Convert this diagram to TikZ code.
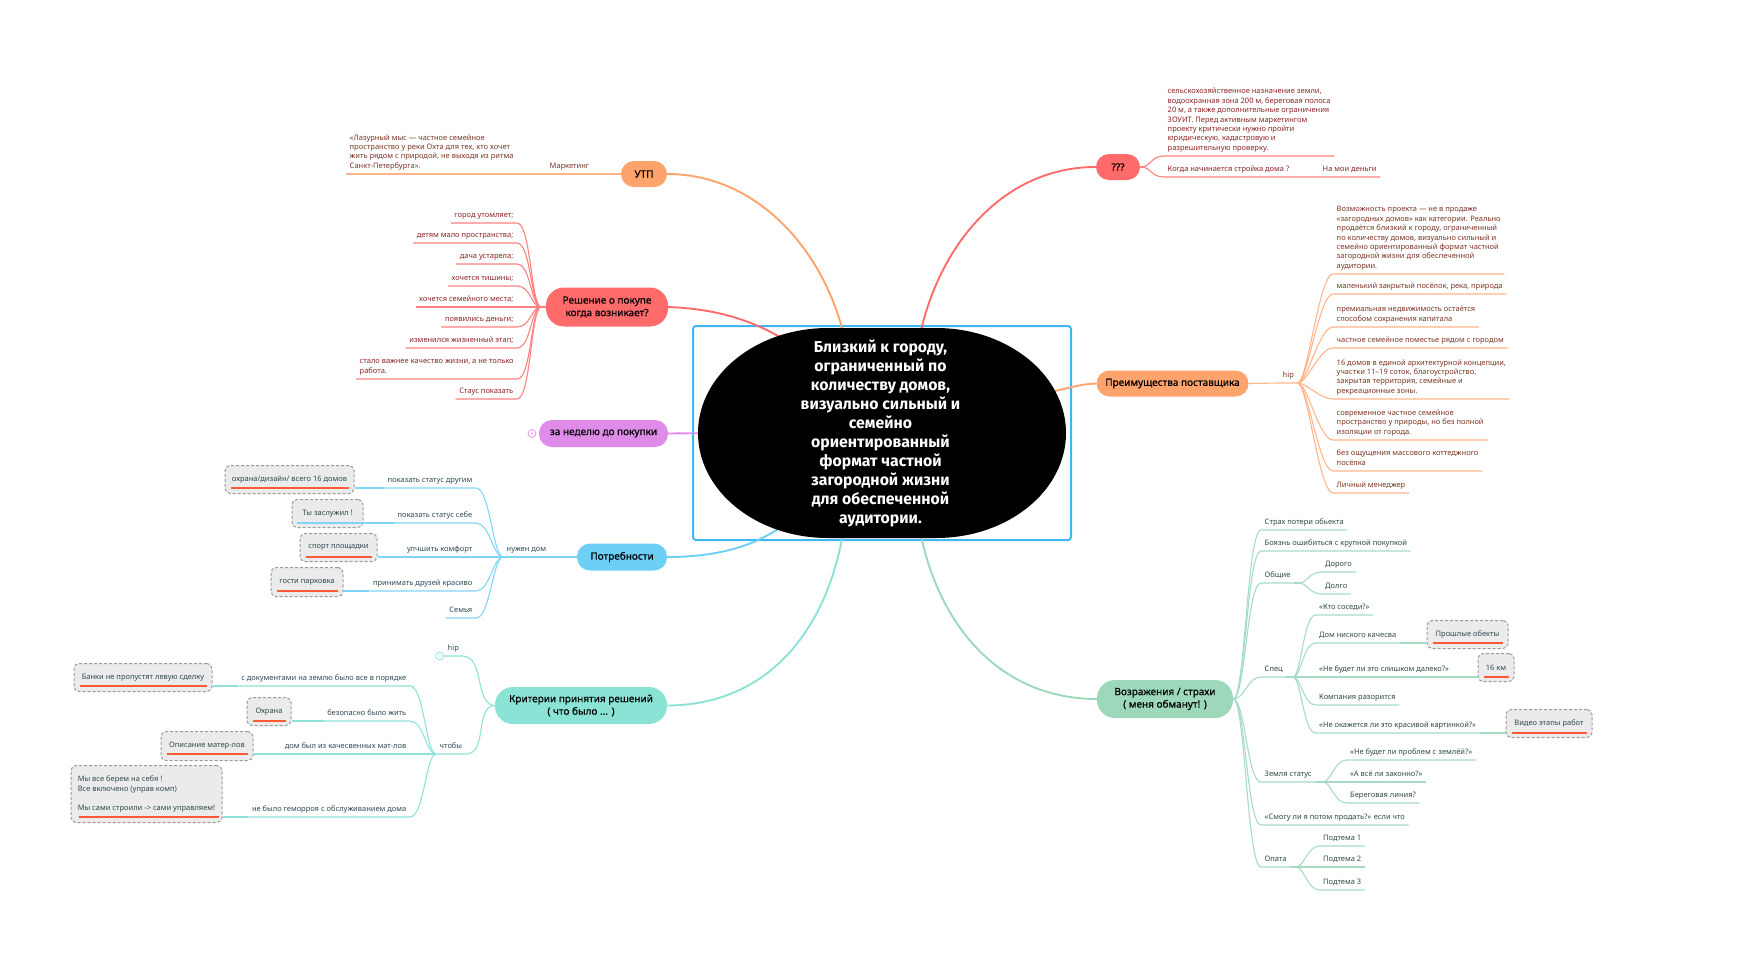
\documentclass[tikz,border=0pt]{standalone}
\usepackage{fontspec}
\setmainfont{Noto Sans}
\newfontfamily\cenfont{Fira Sans}
\newfontfamily\nodefont{Noto Sans}[FakeBold=0.5]
\definecolor{corange}{HTML}{FFA36C}
\definecolor{lorange}{HTML}{FFB48A}
\definecolor{cred}{HTML}{FF6B6B}
\definecolor{lred}{HTML}{FF8080}
\definecolor{cviolet}{HTML}{DE8BEA}
\definecolor{cblue}{HTML}{6DCFF6}
\definecolor{lblue}{HTML}{80D4F7}
\definecolor{cturq}{HTML}{8BE3D6}
\definecolor{lturq}{HTML}{8EE2D6}
\definecolor{cgreen}{HTML}{9DD8BA}
\definecolor{lgreen}{HTML}{A6DCC3}
\definecolor{framec}{HTML}{3DB6F2}
\definecolor{tbrown}{HTML}{7A3524}
\definecolor{tred}{HTML}{8A2424}
\definecolor{tslate}{HTML}{2F4A55}
\definecolor{tgreen}{HTML}{2E4A44}
\definecolor{tbox}{HTML}{2F4A4F}
\definecolor{boxfill}{HTML}{EBEBEB}
\definecolor{boxline}{HTML}{9A9A9A}
\definecolor{uline}{HTML}{FF5A36}
\begin{document}
\begin{tikzpicture}[x=1pt,y=-1pt,
  main/.style={rectangle, rounded corners=#1, inner xsep=6pt, inner ysep=2pt, align=center, text=black, font=\nodefont\fontsize{10}{12.5}\selectfont},
  leaf/.style={inner xsep=3.5pt, inner ysep=5.5pt, text depth=0pt, align=left, font=\fontsize{7.5}{9.4}\selectfont},
  callbox/.style={draw=boxline, fill=boxfill, dash pattern=on 3pt off 2pt, line width=1pt, rounded corners=5pt, inner sep=2pt, text=tbox, align=left, font=\fontsize{7.5}{9.4}\selectfont},
  ul/.style={draw=uline, line width=1.3pt},
  conn/.style={line width=1.9pt},
  twig/.style={line width=1.1pt},
  dotc/.style={circle, draw, line width=0.7pt, inner sep=0pt, minimum size=8pt, font=\fontsize{4.5}{5}\selectfont},
]
\useasboundingbox (0,0) rectangle (1742,959);

% ---------- main topic nodes ----------
\node[draw=framec, line width=2pt, rounded corners=3pt, minimum width=378pt, minimum height=214pt] (frm) at (882,433) {};
\node[main=13pt, fill=corange, minimum width=46pt, minimum height=26pt] (utp) at (644,174) {УТП};
\node[main=18pt, fill=cred, minimum width=122pt, minimum height=39pt] (dec) at (607,307) {Решение о покупе\\когда возникает?};
\node[main=13pt, fill=cviolet, minimum width=129pt, minimum height=27pt] (week) at (603.5,433.5) {за неделю до покупки};
\node[dotc, draw=cviolet, text=cviolet] (weekc) at (532,433.5) {8};
\node[main=13pt, fill=cblue, minimum width=90pt, minimum height=27pt] (need) at (622,557) {Потребности};
\node[main=18pt, fill=cturq, minimum width=172pt, minimum height=37pt] (crit) at (581,705.5) {Критерии принятия решений\\( что было ... )};
\node[main=13pt, fill=cred, minimum width=44pt, minimum height=26pt] (qqq) at (1118,167) {???};
\node[main=13pt, fill=corange, minimum width=152pt, minimum height=26pt] (adv) at (1172.5,383.5) {Преимущества поставщика};
\node[main=18pt, fill=cgreen, minimum width=136pt, minimum height=38pt] (obj) at (1165,699) {Возражения / страхи\\( меня обманут! )};

% ---------- main connectors ----------
\coordinate (eutp) at (846,345);
\coordinate (edec) at (800,350);
\coordinate (eweek) at (715,433);
\coordinate (eneed) at (790,520);
\coordinate (ecrit) at (845,520);
\coordinate (eqqq) at (918,345);
\coordinate (eadv) at (1050,392);
\coordinate (eobj) at (918,520);
\draw[conn, draw=corange] (utp.east) .. controls (760,174) and (828,255) .. (eutp);
\draw[conn, draw=cred] (dec.east) .. controls (725,309) and (765,325) .. (edec);
\draw[conn, draw=cviolet] (week.east) -- (eweek);
\draw[conn, draw=cblue] (need.east) .. controls (720,557) and (760,545) .. (eneed);
\draw[conn, draw=cturq] (crit.east) .. controls (775,705) and (832,620) .. (ecrit);
\draw[conn, draw=cred] (qqq.west) .. controls (1000,167) and (935,250) .. (eqqq);
\draw[conn, draw=corange] (adv.west) .. controls (1080,384) and (1070,388) .. (eadv);
\draw[conn, draw=cgreen] (obj.west) .. controls (1000,699) and (935,625) .. (eobj);

% ---------- central node ----------
\fill[black] (828,328) arc[start angle=270, end angle=90, x radius=130, y radius=105]
  -- (936,538) arc[start angle=90, end angle=-90, x radius=130, y radius=105] -- cycle;
\node[text=white, align=center, font=\cenfont\bfseries\fontsize{15.8}{19}\selectfont] (cen) at (880.5,433)
  {Близкий к городу,\\ограниченный по\\количеству домов,\\визуально сильный и\\семейно\\ориентированный\\формат частной\\загородной жизни\\для обеспеченной\\аудитории.};

% ---------- УТП ----------
\node[leaf, text=tbrown, anchor=south west] (mk) at (546,174) {Маркетинг};
\node[leaf, text=tbrown, anchor=south west] (quote) at (346,174) {«Лазурный мыс — частное семейное\\пространство у реки Охта для тех, кто хочет\\жить рядом с природой, не выходя из ритма\\Санкт-Петербурга».};
\draw[twig, draw=lorange] (utp.west) -- (mk.south east) -- (mk.south west) -- (quote.south east) -- (quote.south west);

% ---------- Решение ----------
\coordinate (decf) at (541,307);
\node[leaf, text=tred, anchor=south east] (d1) at (517,223) {город утомляет;};
\node[leaf, text=tred, anchor=south east] (d2) at (517,243) {детям мало пространства;};
\node[leaf, text=tred, anchor=south east] (d3) at (517,264) {дача устарела;};
\node[leaf, text=tred, anchor=south east] (d4) at (517,286) {хочется тишины;};
\node[leaf, text=tred, anchor=south east] (d5) at (517,307) {хочется семейного места;};
\node[leaf, text=tred, anchor=south east] (d6) at (517,327) {появились деньги;};
\node[leaf, text=tred, anchor=south east] (d7) at (517,348) {изменился жизненный этап;};
\node[leaf, text=tred, anchor=south west] (d8) at (356,379) {стало важнее качество жизни, а не только\\работа.};
\node[leaf, text=tred, anchor=south east] (d9) at (517,399) {Стаус показать};
\draw[twig, draw=lred] (dec.west) -- (decf);
\foreach \n in {d1,d2,d3,d4,d5,d6,d7,d8,d9}
  {\draw[twig, draw=lred] (decf) .. controls +(-10,0) and +(14,0) .. (\n.south east) -- (\n.south west);}

% ---------- Потребности ----------
\node[leaf, text=tslate, anchor=south west] (nd) at (503,557) {нужен дом};
\node[leaf, text=tslate, anchor=south east] (n1) at (476,488) {показать статус другим};
\node[leaf, text=tslate, anchor=south east] (n2) at (476,523) {показать статус себе};
\node[leaf, text=tslate, anchor=south east] (n3) at (476,557) {улчшить комфорт};
\node[leaf, text=tslate, anchor=south east] (n4) at (476,591) {принимать друзей красиво};
\node[leaf, text=tslate, anchor=south east] (n5) at (476,618) {Семья};
\node[callbox, minimum width=129pt, minimum height=28pt, anchor=south] (b1) at (289.5,494) {охрана/дизайн/ всего 16 домов};
\node[callbox, minimum width=71pt, minimum height=28pt, anchor=south] (b2) at (327.5,528) {Ты заслужил !};
\node[callbox, minimum width=77pt, minimum height=28pt, anchor=south] (b3) at (338.5,562) {спорт площадки};
\node[callbox, minimum width=72pt, minimum height=29pt, anchor=south] (b4) at (307,597) {гости парковка};
\draw[twig, draw=lblue] (need.west) -- (nd.south east) -- (nd.south west);
\foreach \n in {n1,n2,n3,n4,n5}
  {\draw[twig, draw=lblue] (nd.south west) .. controls +(-10,0) and +(14,0) .. (\n.south east) -- (\n.south west);}
\draw[twig, draw=lblue] (n1.south west) -- (b1.east |- n1.south west);
\draw[twig, draw=lblue] (n2.south west) -- ([xshift=5pt,yshift=5pt]b2.south west);
\draw[twig, draw=lblue] (n3.south west) -- (b3.east |- n3.south west);
\draw[twig, draw=lblue] (n4.south west) -- (b4.east |- n4.south west);
\draw[ul] ([xshift=6pt,yshift=6pt]b1.south west) -- ([xshift=-6pt,yshift=6pt]b1.south east);
\draw[ul] ([xshift=6pt,yshift=5pt]b3.south west) -- ([xshift=-6pt,yshift=5pt]b3.south east);
\draw[ul] ([xshift=6pt,yshift=6pt]b4.south west) -- ([xshift=-6pt,yshift=6pt]b4.south east);

% ---------- Критерии ----------
\node[leaf, text=tslate, anchor=south west] (hip1) at (444,656) {hip};
\node[dotc, draw=cturq, text=cturq, anchor=east] (hipc) at (hip1.south west) {5};
\node[leaf, text=tslate, anchor=south west] (cht) at (436,754) {чтобы};
\draw[twig, draw=lturq] (crit.west) .. controls +(-20,0) and +(22,0) .. (hip1.south east) -- (hip1.south west);
\draw[twig, draw=lturq] (crit.west) .. controls +(-20,0) and +(22,0) .. (cht.south east) -- (cht.south west);
\node[leaf, text=tslate, anchor=south east] (t1) at (410,686) {с документами на землю было все в порядке};
\node[leaf, text=tslate, anchor=south east] (t2) at (410,721) {безопасно было жить};
\node[leaf, text=tslate, anchor=south east] (t3) at (410,754) {дом был из качесвенных мат-лов};
\node[leaf, text=tslate, anchor=south east] (t4) at (410,817) {не было геморроя с обслуживанием дома};
\node[callbox, minimum width=138pt, minimum height=28pt, anchor=south] (tb1) at (143,692) {Банки не пропустят левую сделку};
\node[callbox, minimum width=44pt, minimum height=28pt, anchor=south] (tb2) at (269,726) {Охрана};
\node[callbox, minimum width=92pt, minimum height=29pt, anchor=south] (tb3) at (207,761) {Описание матер-лов};
\node[callbox, minimum width=151pt, minimum height=57pt, anchor=south] (tb4) at (146.5,823) {Мы все берем на себя !\\Все включено (управ комп)\\[9.4pt]Мы сами строили -> сами управляем!};
\foreach \n in {t1,t2,t3,t4}
  {\draw[twig, draw=lturq] (cht.south west) .. controls +(-10,0) and +(14,0) .. (\n.south east) -- (\n.south west);}
\draw[twig, draw=lturq] (t1.south west) -- (tb1.east |- t1.south west);
\draw[twig, draw=lturq] (t2.south west) -- (tb2.east |- t2.south west);
\draw[twig, draw=lturq] (t3.south west) -- (tb3.east |- t3.south west);
\draw[twig, draw=lturq] (t4.south west) -- (tb4.east |- t4.south west);
\draw[ul] ([xshift=6pt,yshift=6pt]tb1.south west) -- ([xshift=-6pt,yshift=6pt]tb1.south east);
\draw[ul] ([xshift=6pt,yshift=5pt]tb2.south west) -- ([xshift=-6pt,yshift=5pt]tb2.south east);
\draw[ul] ([xshift=6pt,yshift=7pt]tb3.south west) -- ([xshift=-6pt,yshift=7pt]tb3.south east);
\draw[ul] ([xshift=8pt,yshift=6pt]tb4.south west) -- ([xshift=-4pt,yshift=6pt]tb4.south east);

% ---------- ??? ----------
\node[leaf, text=tred, anchor=south west] (q1) at (1164,156) {сельскохозяйственное назначение земли,\\водоохранная зона 200 м, береговая полоса\\20 м, а также дополнительные ограничения\\ЗОУИТ. Перед активным маркетингом\\проекту критически нужно пройти\\юридическую, кадастровую и\\разрешительную проверку.};
\node[leaf, text=tred, anchor=south west] (q2) at (1164,177) {Когда начинается стройка дома ?};
\node[leaf, text=tred, anchor=south west] (q3) at (1319,177) {На мои деньги};
\draw[twig, draw=lred] (qqq.east) .. controls +(12,0) and +(-14,0) .. (q1.south west) -- (q1.south east);
\draw[twig, draw=lred] (qqq.east) .. controls +(12,0) and +(-14,0) .. (q2.south west) -- (q2.south east) -- (q3.south west) -- (q3.south east);

% ---------- Преимущества ----------
\node[leaf, text=tbrown, anchor=south west] (ahip) at (1279,383) {hip};
\draw[twig, draw=lorange] (adv.east) -- (ahip.south west) -- (ahip.south east);
\node[leaf, text=tbrown, anchor=south west] (a1) at (1333,274) {Возможность проекта — не в продаже\\«загородных домов» как категории. Реально\\продаётся близкий к городу, ограниченный\\по количеству домов, визуально сильный и\\семейно ориентированный формат частной\\загородной жизни для обеспеченной\\аудитории.};
\node[leaf, text=tbrown, anchor=south west] (a2) at (1333,294) {маленький закрытый посёлок, река, природа};
\node[leaf, text=tbrown, anchor=south west] (a3) at (1333,327) {премиальная недвижимость остаётся\\способом сохранения капитала};
\node[leaf, text=tbrown, anchor=south west] (a4) at (1333,348) {частное семейное поместье рядом с городом};
\node[leaf, text=tbrown, anchor=south west] (a5) at (1333,399) {16 домов в единой архитектурной концепции,\\участки 11–19 соток, благоустройство,\\закрытая территория, семейные и\\рекреационные зоны.};
\node[leaf, text=tbrown, anchor=south west] (a6) at (1333,440) {современное частное семейное\\пространство у природы, но без полной\\изоляции от города.};
\node[leaf, text=tbrown, anchor=south west] (a7) at (1333,471) {без ощущения массового коттеджного\\посёлка};
\node[leaf, text=tbrown, anchor=south west] (a8) at (1333,493) {Личный менеджер};
\foreach \n in {a1,a2,a3,a4,a5,a6,a7,a8}
  {\draw[twig, draw=lorange] (ahip.south east) .. controls +(10,0) and +(-14,0) .. (\n.south west) -- (\n.south east);}

% ---------- Возражения ----------
\node[leaf, text=tgreen, anchor=south west] (o1) at (1261,530) {Страх потери обьекта};
\node[leaf, text=tgreen, anchor=south west] (o2) at (1261,551) {Боязнь ошибиться с крупной покупкой};
\node[leaf, text=tgreen, anchor=south west] (o3) at (1261,583) {Общие};
\node[leaf, text=tgreen, anchor=south west] (o4) at (1261,677) {Спец};
\node[leaf, text=tgreen, anchor=south west] (o5) at (1261,782) {Земля статус};
\node[leaf, text=tgreen, anchor=south west] (o6) at (1261,825) {«Смогу ли я потом продать?» если что};
\node[leaf, text=tgreen, anchor=south west] (o7) at (1261,867) {Опата};
\foreach \n in {o1,o2,o3,o4,o5,o6,o7}
  {\draw[twig, draw=lgreen] (obj.east) .. controls +(12,0) and +(-14,0) .. (\n.south west) -- (\n.south east);}
\coordinate (fo3) at (1299,583);
\coordinate (fo4) at (1293,677);
\coordinate (fo5) at (1323,782);
\coordinate (fo7) at (1296,867);
\draw[twig, draw=lgreen] (o3.south east) -- (fo3);
\draw[twig, draw=lgreen] (o4.south east) -- (fo4);
\draw[twig, draw=lgreen] (o5.south east) -- (fo5);
\draw[twig, draw=lgreen] (o7.south east) -- (fo7);
\node[leaf, text=tgreen, anchor=south west] (g1) at (1321.5,572) {Дорого};
\node[leaf, text=tgreen, anchor=south west] (g2) at (1321.5,594) {Долго};
\foreach \n in {g1,g2}
  {\draw[twig, draw=lgreen] (fo3) .. controls +(8,0) and +(-12,0) .. (\n.south west) -- (\n.south east);}
\node[leaf, text=tgreen, anchor=south west] (s1) at (1315.5,615) {«Кто соседи?»};
\node[leaf, text=tgreen, anchor=south west] (s2) at (1315.5,643) {Дом ниского качесва};
\node[leaf, text=tgreen, anchor=south west] (s3) at (1315.5,677) {«Не будет ли это слишком далеко?»};
\node[leaf, text=tgreen, anchor=south west] (s4) at (1315.5,705) {Компания разорится};
\node[leaf, text=tgreen, anchor=south west] (s5) at (1315.5,733) {«Не окажется ли это красивой картинкой?»};
\foreach \n in {s1,s2,s3,s4,s5}
  {\draw[twig, draw=lgreen] (fo4) .. controls +(8,0) and +(-12,0) .. (\n.south west) -- (\n.south east);}
\node[callbox, minimum width=81pt, minimum height=28pt, anchor=south] (ob1) at (1467.5,649) {Прошлые обекты};
\node[callbox, minimum width=36pt, minimum height=28pt, anchor=south] (ob2) at (1496,682) {16 км};
\node[callbox, minimum width=86pt, minimum height=28pt, anchor=south] (ob3) at (1549,738) {Видео этапы работ};
\draw[twig, draw=lgreen] (s2.south east) -- (ob1.west |- s2.south east);
\draw[twig, draw=lgreen] (s3.south east) -- (ob2.west |- s3.south east);
\draw[twig, draw=lgreen] (s5.south east) -- (ob3.west |- s5.south east);
\draw[ul] ([xshift=6pt,yshift=6pt]ob1.south west) -- ([xshift=-6pt,yshift=6pt]ob1.south east);
\draw[ul] ([xshift=6pt,yshift=5pt]ob2.south west) -- ([xshift=-6pt,yshift=5pt]ob2.south east);
\draw[ul] ([xshift=6pt,yshift=5pt]ob3.south west) -- ([xshift=-6pt,yshift=5pt]ob3.south east);
\node[leaf, text=tgreen, anchor=south west] (z1) at (1346.5,760) {«Не будет ли проблем с землёй?»};
\node[leaf, text=tgreen, anchor=south west] (z2) at (1346.5,782) {«А всё ли законно?»};
\node[leaf, text=tgreen, anchor=south west] (z3) at (1346.5,803) {Береговая линия?};
\foreach \n in {z1,z2,z3}
  {\draw[twig, draw=lgreen] (fo5) .. controls +(8,0) and +(-12,0) .. (\n.south west) -- (\n.south east);}
\node[leaf, text=tgreen, anchor=south west] (p1) at (1319.5,846) {Подтема 1};
\node[leaf, text=tgreen, anchor=south west] (p2) at (1319.5,867) {Подтема 2};
\node[leaf, text=tgreen, anchor=south west] (p3) at (1319.5,890) {Подтема 3};
\foreach \n in {p1,p2,p3}
  {\draw[twig, draw=lgreen] (fo7) .. controls +(8,0) and +(-12,0) .. (\n.south west) -- (\n.south east);}
\end{tikzpicture}
\end{document}
